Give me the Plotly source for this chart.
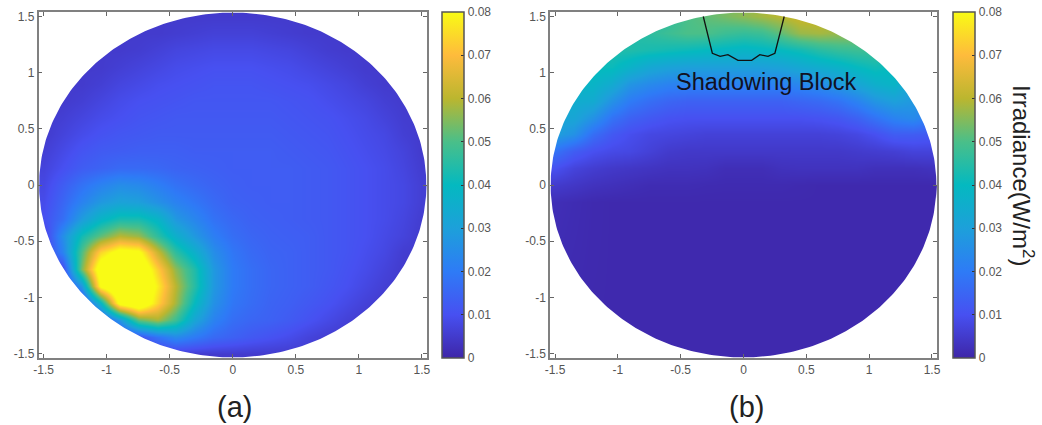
import numpy as np
import plotly.graph_objects as go

GRID_X = [-1.5,-1.35,-1.2,-1.05,-.9,-.75,-.6,-.45,-.3,-.15,0,.15,.3,.45,.6,.75,.9,1.05,1.2,1.35,1.5]
TICKS = [-1.5,-1,-0.5,0,0.5,1,1.5]
TICK_TEXT = ["-1.5","-1","-0.5","0","0.5","1","1.5"]
CB_TICKS = [0,.01,.02,.03,.04,.05,.06,.07,.08]
CB_TEXT = ["0","0.01","0.02","0.03","0.04","0.05","0.06","0.07","0.08"]

# irradiance in mW/m2, rows listed from the top of the picture
GRID_Y_A = [1.5,1.35,1.2,1.05,.9,.75,.6,.45,.3,.15,0,-.15,-.3,-.45,-.6,-.75,-.9,-1.05,-1.2,-1.35,-1.5]
IRR_A = [
[5]*21,
[5,5,5,5,5,5,5,5.5,6,6.5,6.5,6.5,6,5.5,5,5,5,5,5,5,5],
[5,5,5,5,5,5.5,6.5,7.5,8,8.5,8.5,8.5,8,7.5,6.5,5.5,5,5,5,5,5],
[5,5,5,5,6,7,8,9,9.5,10,10,10,9.5,9,8,7,6,5,5,5,5],
[5,5,5,6,7.5,8.5,9.5,10,10.5,11,11,11,10.5,10,9.5,8.5,7.5,6,5,5,5],
[5,5,6,7.5,9,10,10.5,11,11.5,11.5,11.5,11.5,11.5,11,10.5,9.5,8.5,7.5,6,5,5],
[5,6,7.5,9,10,11,11.5,12,12,12,12,12,12,11.5,11,10.5,9.5,8.5,7,5.5,5],
[5,7,9,10.5,11.5,12,12.5,12.5,12.5,12.5,12.5,12.5,12.5,12,11.5,11,10,9,8,6,5],
[6,8.5,11,12.5,13,13.5,13.5,13.5,13,13,13,13,13,12.5,12,11.5,10.5,9.5,8.5,7,5],
[7,10,13,14.5,16,16,15.5,14.5,14,13.5,13,13,13,13,12.5,12,11,10,9,7.5,5.5],
[8,13,18,22,25,24,21,18,16,14.5,13.5,13,13,13,12.5,12,11,10,9,8,6],
[9,15,22,28,31,30,26,22,19,16,14,13.5,13,13,12.5,12,11,10,9,8,6],
[10,17,29,38,43,43,38,28,23,18,15.5,14,13.5,13,12.5,12,11,10,9,7.5,5.5],
[6,25,42,52,60,57,46,36,28,21,17,15,14,13.5,13,12,11,10,8.5,7,5],
[5,22,50,74,84,82,62,46,36,25,19,16,14.5,14,13,12,11,9.5,8,5.5,5],
[5,8,54,88,95,92,73,56,44,28,20,17,15,14,13,12,10.5,9,7,5,5],
[5,5,27,82,95,95,78,60,45,28,20,17,15,14,13,11.5,10,8,6,5,5],
[5,5,6,38,84,92,74,58,40,26,19,16.5,14.5,13.5,12,10.5,8.5,6.5,5,5,5],
[5,5,5,8,27,52,58,48,32,22,17,15,14,12.5,10.5,8.5,6.5,5,5,5,5],
[5,5,5,5,5,10,18,24,20,16,14,12,10.5,9,7,5.5,5,5,5,5,5],
[5]*21,
]

GRID_Y_B = [1.5,1.35,1.2,1.05,.9,.75,.6,.45,.3,.15,0,-.15,-1.5]
IRR_B = [
[42,42,42,42,42,44,46,50,52,54,56,58,60,62,62,60,58,56,54,52,50],
[42,42,42,42,44,46,48,50,50,48,47,48,52,57,58,57,56,54,52,50,48],
[40,40,40,44,44,43,42,41,40,39,38,39,40,42,45,47,48,48,46,44,42],
[40,40,41,41,37,33,31,30,30,30,30,30,31,33,35,37,40,42,40,36,34],
[38,38,38,34,27,24,22,22,22,22,22,22,22,23,25,28,32,36,38,30,26],
[35,35,34,26,20,17,15,14,14,14,14,14,14,15,16,18,22,27,30,28,22],
[32,32,26,18,14,12,10.5,10,10,10,10,10,10,10,10.5,11.5,14,18,22,24,20],
[30,26,17,12,9.5,8,7.5,7,6.5,6.5,6.5,6.5,6.5,6.5,6.5,7,8,10,13,13,12],
[18,13,10,8.5,8,6.5,5,4.5,4.5,4.5,4.5,4.5,4.5,4.5,4.5,4.5,5,5.5,6,7,7],
[10,7,5.5,4.5,4,3.5,3,3,2.8,2,2,2,2.8,3,3,3,3,2.5,2.5,2.5,3],
[5,4,3,2.5,2,1.5,1.5,1.5,1.3,1.2,1.2,1.2,1.2,1,.8,.8,.8,.8,.8,.8,.8],
[2,1.5,1,.8,.8,.8,.8,.8,.8,.8,.8,.8,.8,.8,.8,.8,.8,.8,.8,.8,.8],
[.8]*21,
]

BLOCK_X = [-.32,-.248,-.186,-.124,-.044,.065,.13,.195,.25,.324]
BLOCK_Y = [1.50,1.173,1.145,1.16,1.11,1.11,1.16,1.145,1.173,1.50]

PARULA = [[0,"#3E26A8"],[.125,"#4750F1"],[.25,"#2E7BF6"],[.375,"#1DA0DA"],[.5,"#04B9C0"],
          [.625,"#4ABF89"],[.75,"#BBB62F"],[.875,"#FEBB3C"],[1,"#F9FB15"]]

W, H = 1042, 425
RANGE = 1.54
DISC_R = 1.535
FONT = "Liberation Sans, Arial, sans-serif"
TICK_COL = "#555555"

def py(v): return (H - v) / H

fig = go.Figure()

def ring_mask():
    t = np.linspace(0, -2*np.pi, 361)
    x = [1.6, 1.6, -1.6, -1.6, 1.6] + list(DISC_R*np.cos(t)) + [1.6]
    y = [0, 1.6, 1.6, -1.6, -1.6] + list(DISC_R*np.sin(t)) + [0]
    return x, y

def panel(z, gy, xa, ya, cb_left):
    fig.add_trace(go.Heatmap(
        x=GRID_X, y=gy[::-1], z=(np.array(z[::-1], dtype=float)/1000).tolist(),
        zmin=0, zmax=.08, zsmooth="best", colorscale=PARULA, xaxis=xa, yaxis=ya, hoverinfo="skip",
        colorbar=dict(x=cb_left/W, xanchor="left", xpad=0, ypad=0, thickness=22, thicknessmode="pixels",
                      y=py(358), yanchor="bottom", len=346/H, lenmode="fraction",
                      outlinecolor="#555555", outlinewidth=1.5,
                      ticks="inside", ticklen=3, tickcolor="#333333", tickwidth=1,
                      tickvals=CB_TICKS, ticktext=CB_TEXT,
                      tickfont=dict(family=FONT, size=12, color=TICK_COL))))
    mx, my = ring_mask()
    fig.add_trace(go.Scatter(x=mx, y=my, mode="lines", fill="toself", fillcolor="white",
                             line=dict(width=0, color="white"), xaxis=xa, yaxis=ya,
                             hoverinfo="skip", showlegend=False))

panel(IRR_A, GRID_Y_A, "x", "y", 442)
panel(IRR_B, GRID_Y_B, "x2", "y2", 953)

fig.add_trace(go.Scatter(x=BLOCK_X, y=BLOCK_Y, mode="lines", line=dict(color="#111111", width=1.3),
                         xaxis="x2", yaxis="y2", hoverinfo="skip", showlegend=False))

axis = dict(range=[-RANGE, RANGE], tickvals=TICKS, ticktext=TICK_TEXT, ticks="inside", ticklen=4,
            tickcolor="#666666", tickwidth=1, showline=True, linecolor="#808080", linewidth=1.5,
            mirror="ticks", showgrid=False, zeroline=False, layer="above traces", automargin=False,
            tickfont=dict(family=FONT, size=12, color=TICK_COL))

def note(text, x, y, size, color, angle=0):
    return dict(text=text, x=x/W, y=py(y), xref="paper", yref="paper", showarrow=False,
                xanchor="center", yanchor="middle", textangle=angle,
                font=dict(family=FONT, size=size, color=color))

fig.update_layout(
    width=W, height=H, margin=dict(l=0, r=0, t=0, b=0, autoexpand=False),
    paper_bgcolor="white", plot_bgcolor="white", showlegend=False,
    xaxis=dict(axis, domain=[38.5/W, 427/W], anchor="y"),
    yaxis=dict(axis, domain=[py(358), py(12)], anchor="x"),
    xaxis2=dict(axis, domain=[550/W, 937/W], anchor="y2"),
    yaxis2=dict(axis, domain=[py(358), py(12)], anchor="x2"),
    annotations=[
        note("(a)", 234, 407, 29, "#222222"),
        note("(b)", 746, 407, 29, "#222222"),
        note("Shadowing Block", 766.5, 82, 23.5, "#111122"),
        note("Irradiance(W/m<sup>2</sup>)", 1023, 175, 24, "#222222", 90),
    ],
)

fig.write_html("out.html", config={"displayModeBar": False}, post_script="document.body.style.margin='0';")
